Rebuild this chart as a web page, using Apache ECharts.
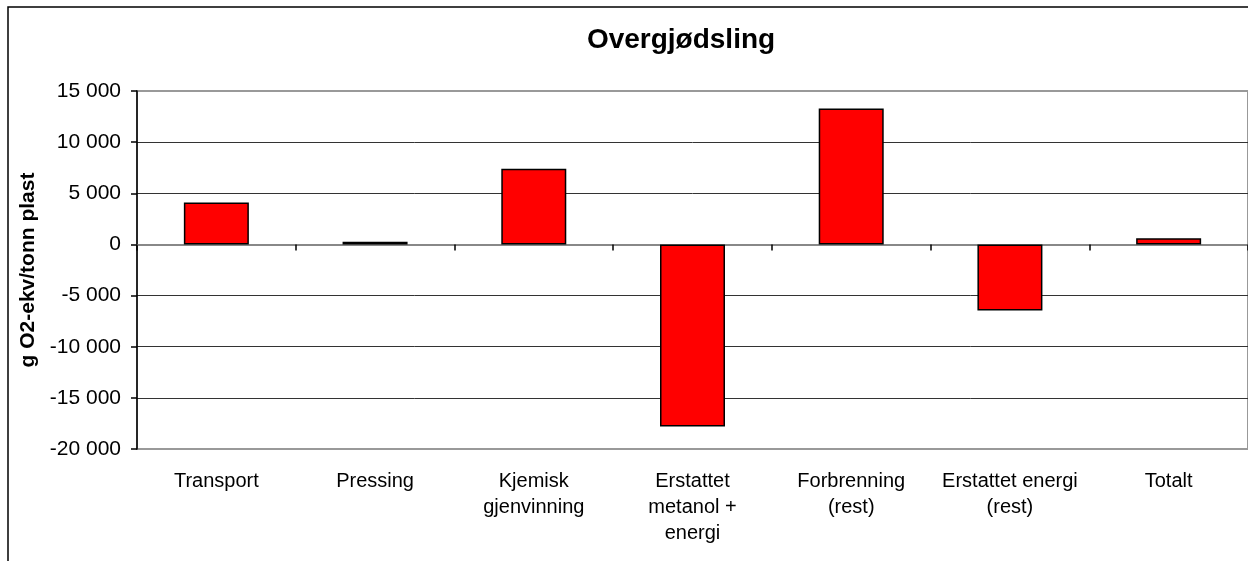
<!DOCTYPE html>
<html>
<head>
<meta charset="utf-8">
<script src="https://cdn.jsdelivr.net/npm/echarts@6/dist/echarts.min.js"></script>
<style>
  html, body { margin: 0; padding: 0; background: #fff; }
  #chart { width: 1248px; height: 561px; }
</style>
</head>
<body>
<div id="chart"></div>
<script>
// Categories and values (g O2-ekv per tonn plast)
const categories = [
  'Transport',
  'Pressing',
  'Kjemisk\ngjenvinning',
  'Erstattet\nmetanol +\nenergi',
  'Forbrenning\n(rest)',
  'Erstattet energi\n(rest)',
  'Totalt'
];
const values = [4100, 250, 7400, -17800, 13300, -6450, 600];

const yMin = -20000;
const yMax = 15000;
const yStep = 5000;

const titleText = 'Overgjødsling';
const yAxisTitle = 'g O2-ekv/tonn plast';

const FONT = '"Liberation Sans", Arial, sans-serif';

// Format numbers with a space as thousands separator, e.g. "-15 000"
function fmt(v) {
  const s = String(Math.abs(v)).replace(/\B(?=(\d{3})+(?!\d))/g, ' ');
  return (v < 0 ? '-' : '') + s;
}

const chart = echarts.init(document.getElementById('chart'), null, { renderer: 'canvas' });

chart.setOption({
  animation: false,
  backgroundColor: '#ffffff',
  title: {
    text: titleText,
    left: 676,
    textAlign: 'center',
    top: 21,
    textStyle: { fontFamily: FONT, fontSize: 28, fontWeight: 'bold', color: '#000' }
  },
  graphic: [{
    type: 'rect',
    shape: { x: 8, y: 7, width: 1400, height: 700 },
    style: { fill: 'none', stroke: '#000', lineWidth: 1.5 },
    silent: true
  }],
  grid: {
    left: 137,
    top: 91,
    width: 1116,
    height: 358,
    show: true,
    borderColor: '#999',
    borderWidth: 2,
    backgroundColor: 'transparent'
  },
  xAxis: [{
    // labels along the bottom of the plot
    type: 'category',
    data: categories,
    position: 'bottom',
    axisLine: { show: false, onZero: false },
    axisTick: { show: false },
    axisLabel: {
      interval: 0,
      margin: 19,
      fontFamily: FONT,
      fontSize: 20,
      lineHeight: 26,
      color: '#000'
    }
  }, {
    // baseline at zero with category separators
    type: 'category',
    data: categories,
    position: 'bottom',
    axisLine: { show: true, onZero: true, lineStyle: { color: '#888', width: 2 } },
    axisTick: { show: true, inside: false, length: 6, lineStyle: { color: '#000', width: 1.5 } },
    axisLabel: { show: false }
  }],
  yAxis: {
    type: 'value',
    min: yMin,
    max: yMax,
    interval: yStep,
    name: yAxisTitle,
    nameLocation: 'middle',
    nameGap: 97,
    nameTextStyle: { fontFamily: FONT, fontSize: 21, fontWeight: 'bold', color: '#000' },
    axisLine: { show: true, lineStyle: { color: '#000', width: 1.5 } },
    axisTick: { show: true, inside: false, length: 6, lineStyle: { color: '#000', width: 1.5 } },
    axisLabel: {
      margin: 16,
      formatter: fmt,
      fontFamily: FONT,
      fontSize: 21,
      color: '#000'
    },
    splitLine: {
      show: true,
      lineStyle: {
        color: ['transparent', '#333', '#333', '#333', 'transparent', '#333', '#333', 'transparent'],
        width: 1
      }
    }
  },
  series: [{
    type: 'bar',
    xAxisIndex: 0,
    data: values,
    barWidth: 65,
    itemStyle: { color: '#ff0000', borderColor: '#000', borderWidth: 1.5 }
  }]
});
</script>
</body>
</html>
